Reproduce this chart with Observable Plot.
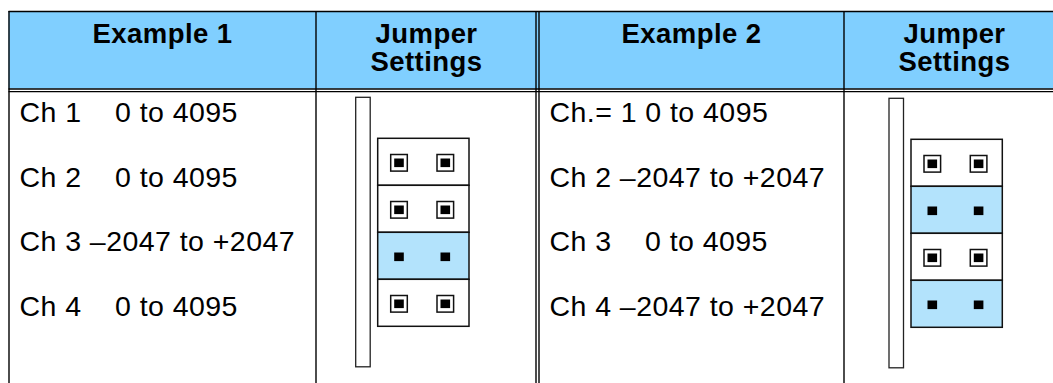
<!DOCTYPE html>
<html><head><meta charset="utf-8">
<script src="https://cdn.jsdelivr.net/npm/d3@7"></script>
<script src="https://cdn.jsdelivr.net/npm/@observablehq/plot@0.6"></script>
<style>html,body{margin:0;padding:0;background:#fff}svg{display:block}</style>
</head><body><div id="chart"></div>
<script>
// ---- content ----
const exampleHeaders = ["Example 1", "Example 2"];
const jumperHeaderLines = ["Jumper", "Settings"];
const labels1 = ["Ch 1", "Ch 2", "Ch 3", "Ch 4"];
const ranges1 = ["0 to 4095", "0 to 4095", "–2047 to +2047", "0 to 4095"];
const labels2 = ["Ch.= 1", "Ch 2", "Ch 3", "Ch 4"];
const ranges2 = ["0 to 4095", "–2047 to +2047", "0 to 4095", "–2047 to +2047"];

// ---- layout ----
const W = 1053, H = 383;
const FONT = "Liberation Sans, Arial, Helvetica, sans-serif";
const tableLeft = 8.5, tableTop = 11, headerBottom = 88.5;
const exCol = [[tableLeft, 315.5], [538.5, 843.5]];
const textX = [19, 549];
const jumperCenter = [426, 954];
const rowBaseline = i => 121.5 + i * 64.5;
const blockX = [377.7, 911], blockY = [138.3, 139.3];
const blockW = 91.3, blockRowH = 47;
const NB = "\u00a0";

const labels = [labels1, labels2], ranges = [ranges1, ranges2];
const isBipolar = r => r.startsWith("–");

const rowText = [], blockRows = [], pins = [], bars = [];
for (let e = 0; e < 2; e++) {
  for (let i = 0; i < 4; i++) {
    const lab = labels[e][i], rng = ranges[e][i];
    const sep = (!isBipolar(rng) && !lab.includes("=")) ? NB.repeat(3) + " " : " ";
    rowText.push({x: textX[e], y: rowBaseline(i), text: lab + sep + rng});
    const y1 = blockY[e] + i * blockRowH;
    blockRows.push({x1: blockX[e], x2: blockX[e] + blockW, y1, y2: y1 + blockRowH, bip: isBipolar(rng)});
    for (const dx of [21.3, 67.6]) {
      pins.push({cx: blockX[e] + dx, cy: y1 + blockRowH / 2 + 1, bip: isBipolar(rng)});
    }
  }
  bars.push({x1: blockX[e] - 22, x2: blockX[e] - 7.5, y1: blockY[e] - 41, y2: blockY[e] + 228.5});
}

const headerText = [
  {x: (exCol[0][0] + exCol[0][1]) / 2, y: 42, text: exampleHeaders[0]},
  {x: (exCol[1][0] + exCol[1][1]) / 2, y: 42, text: exampleHeaders[1]},
  ...jumperCenter.flatMap(cx => jumperHeaderLines.map((t, k) => ({x: cx, y: 42 + k * 28, text: t})))
];

const vLines = [
  {x: tableLeft, y1: tableTop, y2: H},
  {x: exCol[0][1], y1: tableTop, y2: H},
  {x: 535.5, y1: tableTop, y2: H},
  {x: 538.5, y1: tableTop, y2: H},
  {x: exCol[1][1], y1: tableTop, y2: H}
];
const hLines = [
  {y: tableTop, x1: tableLeft, x2: W},
  {y: headerBottom, x1: tableLeft, x2: W},
  {y: headerBottom + 2.6, x1: tableLeft, x2: W}
];

const chart = Plot.plot({
  width: W, height: H,
  margin: 0, marginTop: 0, marginRight: 0, marginBottom: 0, marginLeft: 0,
  x: {domain: [0, W], range: [0, W], axis: null},
  y: {domain: [0, H], range: [0, H], axis: null},
  style: {fontFamily: FONT, background: "#fff"},
  marks: [
    Plot.rect([{x1: tableLeft, x2: W, y1: tableTop, y2: headerBottom}], {x1: "x1", x2: "x2", y1: "y1", y2: "y2", fill: "#80CFFF"}),
    Plot.ruleX(vLines, {x: "x", y1: "y1", y2: "y2", stroke: "#000", strokeWidth: 1.4}),
    Plot.ruleY(hLines, {y: "y", x1: "x1", x2: "x2", stroke: "#000", strokeWidth: 1.4}),
    Plot.text(headerText, {x: "x", y: "y", text: "text", fontSize: 27.5, fontWeight: "bold", fill: "#000", textAnchor: "middle", lineAnchor: "bottom"}),
    Plot.text(rowText, {x: "x", y: "y", text: "text", fontSize: 28.5, fill: "#000", textAnchor: "start", lineAnchor: "bottom"}),
    Plot.rect(bars, {x1: "x1", x2: "x2", y1: "y1", y2: "y2", fill: "#fff", stroke: "#222", strokeWidth: 1.3}),
    Plot.rect(blockRows, {x1: "x1", x2: "x2", y1: "y1", y2: "y2", fill: d => d.bip ? "#B3E3FC" : "#fff", stroke: "#111", strokeWidth: 1.5}),
    Plot.rect(pins.filter(p => !p.bip), {x1: d => d.cx - 8.3, x2: d => d.cx + 8.3, y1: d => d.cy - 8.3, y2: d => d.cy + 8.3, fill: "#fff", stroke: "#111", strokeWidth: 1.5}),
    Plot.rect(pins, {x1: d => d.cx - 4.8, x2: d => d.cx + 4.8, y1: d => d.cy - 4.3, y2: d => d.cy + 4.3, fill: "#000"})
  ]
});
d3.select(chart).selectAll("text").attr("letter-spacing", "0.45");
document.getElementById("chart").append(chart);
</script>
</body></html>
